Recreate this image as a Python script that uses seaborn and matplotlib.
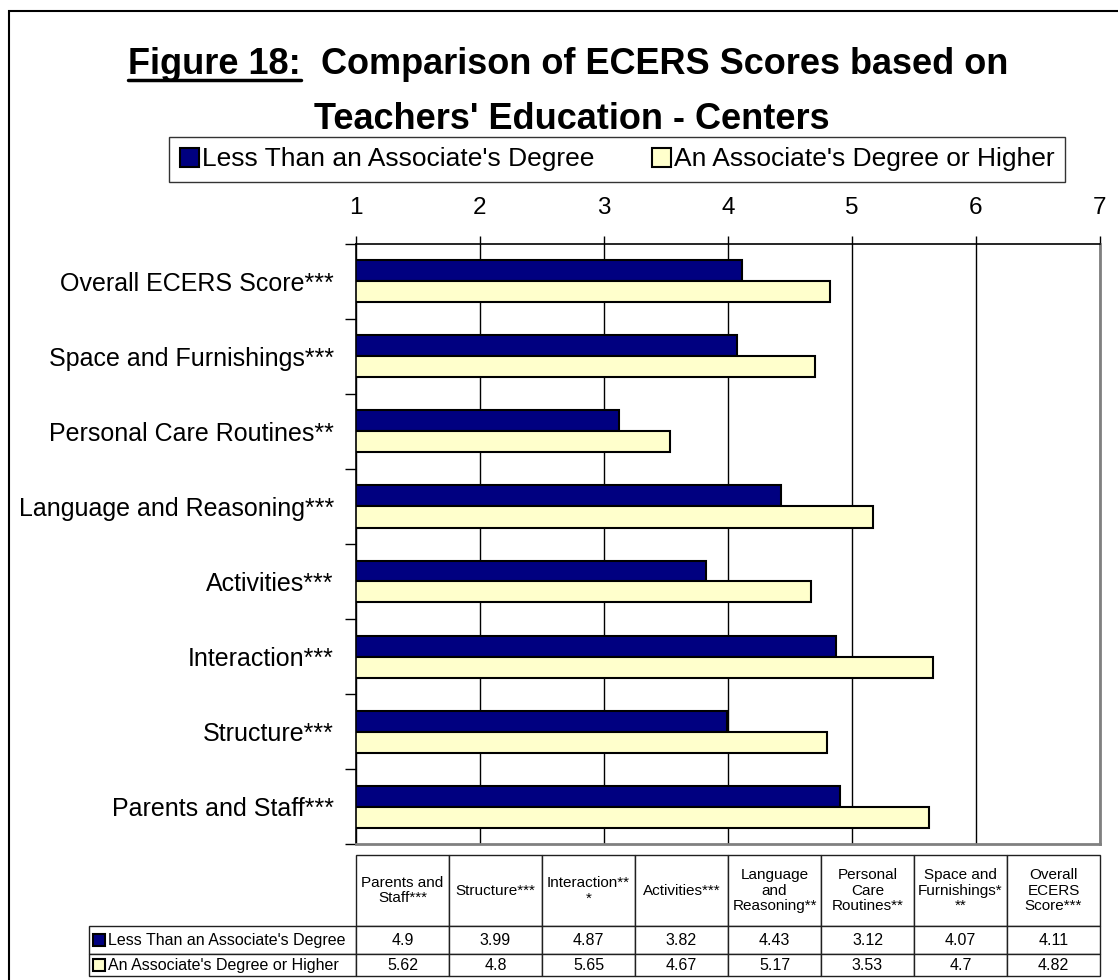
import numpy as np
import pandas as pd
import seaborn as sns
import matplotlib.pyplot as plt
from matplotlib.patches import Rectangle
from matplotlib.lines import Line2D

# Data (table order, as in the reference table)
categories = ["Parents and Staff***", "Structure***", "Interaction***", "Activities***",
              "Language and Reasoning***", "Personal Care Routines**",
              "Space and Furnishings***", "Overall ECERS Score***"]
table_headers = ["Parents and\nStaff***", "Structure***", "Interaction**\n*", "Activities***",
                 "Language\nand\nReasoning**", "Personal\nCare\nRoutines**",
                 "Space and\nFurnishings*\n**", "Overall\nECERS\nScore***"]
groups = ["Less Than an Associate's Degree", "An Associate's Degree or Higher"]
less_than_assoc = [4.9, 3.99, 4.87, 3.82, 4.43, 3.12, 4.07, 4.11]
assoc_or_higher = [5.62, 4.8, 5.65, 4.67, 5.17, 3.53, 4.7, 4.82]
colors = ["#000080", "#FFFFCC"]
x_ticks = [1, 2, 3, 4, 5, 6, 7]

df = pd.DataFrame({
    "category": categories * 2,
    "score": less_than_assoc + assoc_or_higher,
    "group": [groups[0]] * len(categories) + [groups[1]] * len(categories),
})

sns.set_style("white")
plt.rcParams["font.family"] = ["Liberation Sans", "DejaVu Sans"]
plt.rcParams["text.color"] = "black"
plt.rcParams["xtick.color"] = "black"
plt.rcParams["ytick.color"] = "black"
plt.rcParams["axes.labelcolor"] = "black"

W, H = 1118, 980
fig = plt.figure(figsize=(W / 100, H / 100), dpi=100)

# outer frame
fig.add_artist(Rectangle((9 / W, -0.05), 1.2, 1 - 11 / H + 0.05, transform=fig.transFigure,
                         fill=False, edgecolor="black", linewidth=1.5))

# main bar chart
ax = fig.add_axes([356 / W, 1 - 844 / H, 744 / W, 600 / H])
plot_order = categories[::-1]
sns.barplot(data=df, y="category", x="score", hue="group", order=plot_order,
            hue_order=groups, palette=colors, saturation=1, orient="h", width=0.56,
            edgecolor="black", linewidth=1.5, ax=ax)

handles, labels = ax.get_legend_handles_labels()
ax.get_legend().remove()

ax.set_xlim(1, 7)
ax.set_xticks(x_ticks)
ax.xaxis.tick_top()
ax.tick_params(axis="x", top=True, length=6, width=1, pad=12, labelsize=17.5)
ax.set_xlabel("")
ax.set_ylabel("")
ax.grid(axis="x", color="black", linewidth=1)
ax.set_axisbelow(True)

ax.set_yticks(np.arange(len(plot_order)))
ax.set_yticklabels(plot_order)
ax.set_yticks(np.arange(len(plot_order) + 1) - 0.5, minor=True)
ax.tick_params(axis="y", which="major", length=0, pad=16, labelsize=18)
ax.tick_params(axis="y", which="minor", left=True, length=8, width=1)
ax.set_ylim(len(plot_order) - 0.5, -0.5)

for side in ["top", "left"]:
    ax.spines[side].set_color("black")
    ax.spines[side].set_linewidth(1.2)
for side in ["right", "bottom"]:
    ax.spines[side].set_color("#808080")
    ax.spines[side].set_linewidth(2)

# legend
leg = fig.legend(handles, labels, loc="lower left",
                 bbox_to_anchor=(169 / W, 1 - 182 / H, 896 / W, 46 / H),
                 mode="expand", ncol=2, fontsize=19, frameon=True, fancybox=False,
                 borderaxespad=0, borderpad=0.4, handlelength=0.72, handleheight=0.72,
                 handletextpad=0.12)
leg.get_frame().set_edgecolor("black")
leg.get_frame().set_linewidth(1)

# title
t1 = fig.text(128 / W, 1 - 74 / H, "Figure 18:", fontsize=26, fontweight="bold", va="baseline")
renderer = fig.canvas.get_renderer()
bb = t1.get_window_extent(renderer)
ul_y = (H - 80) / H
fig.add_artist(Line2D([bb.x0 / W, bb.x1 / W], [ul_y, ul_y],
                      transform=fig.transFigure, color="black", linewidth=2.5))
fig.text(bb.x1 / W, 1 - 74 / H, "  Comparison of ECERS Scores based on", fontsize=26,
         fontweight="bold", va="baseline")
fig.text(572 / W, 1 - 129 / H, "Teachers' Education - Centers", fontsize=26,
         fontweight="bold", va="baseline", ha="center")

# data table
ax_t = fig.add_axes([89 / W, 1 - 976 / H, 1011 / W, 121 / H])
ax_t.axis("off")
col_w = np.array([267] + [93] * len(categories)) / 1011
row_h = np.array([71, 28, 22]) / 121
cell_text = [[groups[0]] + [f"{v:g}" for v in less_than_assoc],
             [groups[1]] + [f"{v:g}" for v in assoc_or_higher]]
tbl = ax_t.table(cellText=cell_text, colLabels=[""] + table_headers, colWidths=list(col_w),
                 cellLoc="center", bbox=[0, 0, 1, 1])
tbl.auto_set_font_size(False)
tbl.set_fontsize(11.5)
for (r, c), cell in tbl.get_celld().items():
    cell.set_height(row_h[r])
    cell.set_linewidth(1)
    cell.set_edgecolor("#202020")
    if r == 0:
        cell.get_text().set_fontsize(11)
        cell.get_text().set_linespacing(1.15)
        if c == 0:
            cell.visible_edges = ""
    elif c == 0:
        cell._loc = "left"
        cell.get_text().set_ha("left")
        cell.PAD = 0.07

# legend keys inside table row labels
y_bottom = 0
for i in [1, 0]:
    h = row_h[i + 1]
    ax_t.add_patch(Rectangle((4 / 1011, y_bottom + h / 2 - 6 / 121), 12 / 1011, 12 / 121,
                             transform=ax_t.transAxes, facecolor=colors[i],
                             edgecolor="black", linewidth=1.5, clip_on=False, zorder=5))
    y_bottom += h

fig.savefig("out.png", dpi=100)
